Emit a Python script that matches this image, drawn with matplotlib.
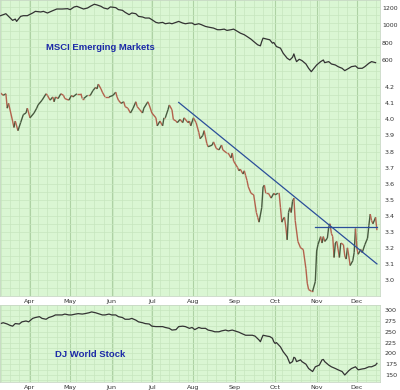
import numpy as np
import pandas as pd
import matplotlib
matplotlib.use("Agg")
import matplotlib.pyplot as plt
import matplotlib.dates as mdates
from matplotlib.collections import LineCollection
from matplotlib.ticker import MultipleLocator, FuncFormatter

start = pd.Timestamp("2008-03-10")

# main price series (days since start, price)
main_days = [0, 2, 4, 5, 6, 9, 10, 11, 13, 15, 17, 19, 20, 22, 25, 27, 28, 31, 34, 35,
             37, 39, 40, 41, 43, 45, 47, 48, 51, 53, 54, 57, 60, 61, 62, 65, 67, 69, 71, 72,
             73, 75, 76, 78, 81, 84, 86, 87, 88, 90, 92, 93, 95, 97, 99, 101, 102, 104, 106, 107,
             110, 111, 113, 116, 117, 119, 121, 122, 123, 125, 126, 128, 129, 131, 132, 134, 136, 137, 140, 141,
             142, 144, 146, 148, 149, 151, 152, 154, 155, 158, 159, 161, 163, 165, 166, 169, 170, 172, 173, 174,
             177, 178, 179, 181, 182, 183, 184, 185, 187, 189, 191, 192, 193, 195, 196, 197, 198, 200, 202, 204,
             205, 207, 208, 209, 210, 211, 212, 213, 214, 215, 216, 217, 218, 219, 220, 222, 224, 226, 228, 229,
             230, 232, 233, 235, 236, 237, 239, 240, 241, 242, 244, 245, 246, 247, 248, 249, 250, 251, 253, 254,
             256, 257, 258, 259, 260, 261, 263, 264, 265, 266, 267, 269, 270, 272, 274, 275, 276, 277, 278, 280,
             281]
main_vals = [4.165, 4.15, 4.16, 4.07, 4.10, 3.99, 3.95, 3.99, 3.93, 3.98, 4.03, 4.04, 4.07, 4.01, 4.04, 4.07, 4.09, 4.12, 4.16, 4.15,
             4.12, 4.14, 4.11, 4.14, 4.13, 4.16, 4.15, 4.13, 4.12, 4.15, 4.14, 4.16, 4.16, 4.13, 4.13, 4.15, 4.15, 4.18, 4.20, 4.19,
             4.22, 4.19, 4.17, 4.14, 4.14, 4.15, 4.17, 4.14, 4.12, 4.10, 4.11, 4.08, 4.07, 4.04, 4.07, 4.11, 4.08, 4.06, 4.04, 4.07,
             4.11, 4.09, 4.04, 4.01, 3.96, 3.99, 3.96, 4.01, 4.01, 4.06, 4.09, 4.06, 4.00, 3.99, 3.98, 4.00, 3.98, 4.01, 3.98, 3.99,
             3.96, 4.01, 3.98, 3.92, 3.88, 3.90, 3.93, 3.85, 3.83, 3.84, 3.86, 3.82, 3.81, 3.84, 3.81, 3.79, 3.79, 3.76, 3.79, 3.74,
             3.70, 3.68, 3.69, 3.66, 3.68, 3.65, 3.62, 3.58, 3.54, 3.53, 3.42, 3.39, 3.36, 3.45, 3.58, 3.59, 3.54, 3.54, 3.51, 3.54,
             3.53, 3.54, 3.54, 3.45, 3.36, 3.38, 3.39, 3.33, 3.25, 3.42, 3.45, 3.42, 3.49, 3.51, 3.37, 3.24, 3.20, 3.19, 3.07, 2.98,
             2.94, 2.93, 2.93, 2.99, 3.18, 3.22, 3.27, 3.23, 3.27, 3.24, 3.26, 3.33, 3.35, 3.29, 3.27, 3.14, 3.23, 3.24, 3.14, 3.23,
             3.22, 3.15, 3.13, 3.20, 3.15, 3.09, 3.12, 3.17, 3.32, 3.20, 3.16, 3.19, 3.17, 3.22, 3.26, 3.34, 3.41, 3.37, 3.35, 3.39,
             3.31]

# MSCI Emerging Markets (top overlay)
msci_days = [0, 4, 6, 9, 11, 12, 15, 17, 20, 24, 26, 30, 32, 35, 39, 42, 46, 50, 52, 55,
             57, 60, 62, 65, 67, 70, 72, 75, 77, 80, 82, 86, 88, 91, 93, 96, 98, 101, 103, 106,
             108, 111, 113, 116, 118, 121, 123, 126, 128, 131, 133, 136, 138, 141, 143, 145, 148, 150, 153, 155,
             159, 162, 164, 167, 169, 172, 174, 177, 179, 182, 184, 187, 189, 192, 194, 195, 196, 199, 201, 203,
             204, 206, 209, 211, 214, 216, 218, 219, 220, 221, 223, 225, 228, 230, 232, 234, 236, 239, 241, 242,
             245, 247, 250, 252, 255, 257, 260, 262, 265, 267, 270, 272, 275, 277, 280]
msci_vals = [1111, 1134, 1103, 1057, 1072, 1045, 1103, 1111, 1111, 1142, 1161, 1154, 1161, 1142, 1169, 1188, 1188, 1192, 1181, 1212,
             1219, 1200, 1188, 1200, 1219, 1243, 1235, 1219, 1200, 1188, 1212, 1204, 1181, 1173, 1150, 1123, 1142, 1134, 1103, 1096,
             1084, 1084, 1065, 1034, 1026, 1034, 1018, 1026, 1018, 1034, 1045, 1026, 1018, 1026, 1026, 1007, 1018, 1007, 987, 980,
             968, 949, 949, 956, 941, 949, 956, 929, 910, 891, 871, 840, 813, 775, 763, 813, 852, 840, 833, 794,
             802, 755, 736, 678, 620, 600, 631, 670, 620, 581, 608, 593, 554, 504, 465, 504, 542, 581, 600, 569,
             581, 554, 542, 523, 504, 477, 504, 523, 531, 504, 504, 523, 562, 581, 569]

# DJ World Stock (bottom panel)
dj_days = [0, 2, 5, 7, 9, 11, 14, 16, 19, 21, 24, 26, 29, 31, 34, 36, 39, 41, 44, 46,
           48, 51, 53, 56, 58, 61, 63, 66, 68, 71, 73, 76, 78, 81, 83, 86, 88, 91, 93, 96,
           98, 101, 103, 106, 108, 111, 113, 116, 118, 121, 123, 126, 128, 131, 133, 136, 138, 141, 143, 145,
           148, 150, 153, 155, 158, 160, 163, 165, 168, 170, 173, 175, 178, 180, 183, 185, 188, 190, 193, 194,
           195, 196, 199, 201, 203, 204, 205, 206, 209, 211, 214, 216, 218, 219, 220, 221, 224, 225, 228, 230,
           233, 235, 238, 240, 241, 242, 245, 247, 250, 252, 255, 257, 260, 262, 265, 267, 270, 272, 275, 277,
           280, 281]
dj_vals = [269, 271, 268, 265, 263, 269, 268, 273, 275, 273, 281, 283, 285, 281, 279, 283, 286, 289, 289, 289,
           291, 289, 289, 291, 292, 291, 292, 294, 296, 294, 292, 289, 289, 291, 289, 289, 285, 283, 279, 279,
           281, 277, 273, 271, 269, 268, 263, 262, 262, 262, 260, 258, 254, 255, 262, 263, 262, 258, 260, 255,
           260, 258, 258, 254, 252, 250, 250, 252, 254, 252, 254, 252, 249, 246, 242, 242, 242, 240, 231, 227,
           235, 242, 240, 239, 235, 227, 223, 225, 215, 204, 192, 177, 181, 191, 189, 181, 185, 181, 175, 165,
           158, 169, 173, 185, 186, 181, 173, 169, 165, 162, 158, 150, 160, 165, 169, 162, 164, 165, 169, 169,
           173, 177]

# trend lines (day, price)
trend_days = [133, 281]
trend_vals = [4.106, 3.10]
resist_days = [235, 281]
resist_vals = [3.33, 3.33]


def to_num(days):
    return mdates.date2num(start + pd.to_timedelta(days, unit="D"))


bg = "#daf6d3"
grid_minor = "#c6e6be"
grid_major = "#aed2a4"
tick_color = "#333333"
xlim = (to_num(-0.4), to_num(283.3))

fig = plt.figure(figsize=(4, 3.9), dpi=100)


def style_grid(ax):
    ax.set_facecolor(bg)
    ax.xaxis.set_major_locator(mdates.MonthLocator())
    ax.xaxis.set_minor_locator(mdates.WeekdayLocator(byweekday=mdates.MO))
    ax.xaxis.set_major_formatter(mdates.DateFormatter("%b"))
    ax.grid(which="minor", color=grid_minor, lw=0.5)
    ax.grid(which="major", axis="y", color=grid_minor, lw=0.5)
    ax.grid(which="major", axis="x", color=grid_major, lw=0.8)
    ax.set_axisbelow(True)
    ax.yaxis.tick_right()
    ax.tick_params(which="both", length=0, labelsize=4.6, colors=tick_color)
    ax.tick_params(axis="y", pad=3.5)
    ax.tick_params(axis="x", pad=2)
    for sp in ax.spines.values():
        sp.set_color("#c8d8c4")
        sp.set_linewidth(0.6)
    ax.set_xlim(xlim)


# main panel
ax = fig.add_axes([0, 94 / 390, 0.95, 296 / 390])
style_grid(ax)
ax.set_ylim(2.9, 4.744)
ax.yaxis.set_major_locator(MultipleLocator(0.1))
ax.yaxis.set_minor_locator(MultipleLocator(0.05))
ax.yaxis.set_major_formatter(FuncFormatter(lambda v, p: "%.1f" % v if 2.95 < v < 4.25 else ""))

x = to_num(main_days)
y = np.array(main_vals)
pts = np.column_stack([x, y]).reshape(-1, 1, 2)
segs = np.concatenate([pts[:-1], pts[1:]], axis=1)
cols = ["#475a3f" if d > 0 else "#b3624d" for d in np.diff(y)]
ax.add_collection(LineCollection(segs, colors=cols, linewidths=1.0))

ax.plot(to_num(trend_days), trend_vals, color="#2b4f9a", lw=0.9)
ax.plot(to_num(resist_days), resist_vals, color="#2b4f9a", lw=0.9)

# MSCI overlay in top part of main panel
axt = fig.add_axes([0, 312 / 390, 0.95, 78 / 390])
axt.patch.set_alpha(0)
for sp in axt.spines.values():
    sp.set_visible(False)
axt.set_xlim(xlim)
axt.set_ylim(392, 1292)
axt.set_xticks([])
axt.yaxis.tick_right()
axt.set_yticks([600, 800, 1000, 1200])
axt.tick_params(length=0, labelsize=4.5, colors=tick_color, pad=1.5)
axt.plot(to_num(msci_days), msci_vals, color="#333333", lw=0.9)
axt.text(0.12, 0.385, "MSCI Emerging Markets", transform=axt.transAxes,
         fontsize=6.8, fontweight="bold", color="#1c2aa8",
         family="Liberation Sans", va="center", ha="left")

# bottom panel
axb = fig.add_axes([0, 8 / 390, 0.95, 77 / 390])
style_grid(axb)
axb.set_ylim(133.8, 312)
axb.yaxis.set_major_locator(MultipleLocator(25))
axb.yaxis.set_minor_locator(MultipleLocator(12.5))
axb.yaxis.set_major_formatter(FuncFormatter(lambda v, p: "%d" % v if 140 < v < 310 else ""))
axb.plot(to_num(dj_days), dj_vals, color="#333333", lw=0.9)
axb.text(0.145, 0.36, "DJ World Stock", transform=axb.transAxes,
         fontsize=6.8, fontweight="bold", color="#1c2aa8",
         family="Liberation Sans", va="center", ha="left")

fig.savefig("out.png", dpi=100, facecolor="white")
